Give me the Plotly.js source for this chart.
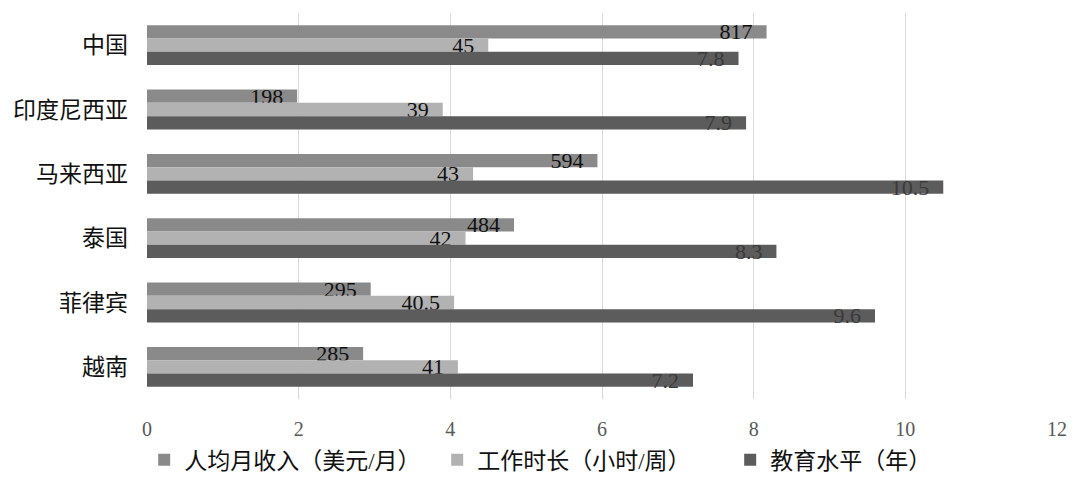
<!DOCTYPE html>
<html>
<head>
<meta charset="utf-8">
<script src="https://cdn.plot.ly/plotly-3.0.1.min.js"></script>
<style>html,body{margin:0;padding:0;background:#fff;}#chart{width:1080px;height:479px;}</style>
</head>
<body>
<div id="chart"></div>
<script>
// Data
var countries = ['中国', '印度尼西亚', '马来西亚', '泰国', '菲律宾', '越南'];
var seriesNames = ['人均月收入（美元/月）', '工作时长（小时/周）', '教育水平（年）'];
var income = [817, 198, 594, 484, 295, 285];      // USD / month
var hours = [45, 39, 43, 42, 40.5, 41];           // hours / week
var education = [7.8, 7.9, 10.5, 8.3, 9.6, 7.2];  // years
// The chart plots each series on a shared 0-12 axis using these display scales
var scales = [100, 10, 1];
var xTicks = [0, 2, 4, 6, 8, 10, 12];

var serif = 'Liberation Serif, Noto Sans CJK SC, serif';
var colors = ['#8a8a8a', '#b2b2b2', '#5c5c5c'];
var textColors = ['#111111', '#111111', '#3a3a3a'];
var values = [income, hours, education];

var traces = values.map(function (vals, i) {
  return {
    type: 'bar',
    orientation: 'h',
    name: seriesNames[i],
    y: countries,
    x: vals.map(function (v) { return v / scales[i]; }),
    text: vals.map(function (v) { return String(v); }),
    texttemplate: '%{text}\u00a0\u00a0',
    textposition: 'inside',
    insidetextanchor: 'end',
    constraintext: 'none',
    textangle: 0,
    insidetextfont: {family: serif, size: 22, color: textColors[i]},
    marker: {color: colors[i], line: {width: 0}},
    hoverinfo: 'none'
  };
});

var layout = {
  width: 1080,
  height: 479,
  margin: {l: 147, r: 23, t: 13, b: 80, autoexpand: false},
  paper_bgcolor: '#ffffff',
  plot_bgcolor: '#ffffff',
  barmode: 'group',
  bargap: 0.38,
  bargroupgap: 0,
  showlegend: true,
  xaxis: {
    range: [0, 12],
    tickvals: xTicks,
    ticktext: xTicks.map(String),
    showgrid: true,
    gridcolor: '#d9d9d9',
    gridwidth: 1,
    zeroline: false,
    showline: false,
    ticks: '',
    ticklabelstandoff: 16,
    tickfont: {family: serif, size: 20, color: '#595959'},
    automargin: false,
    fixedrange: true
  },
  yaxis: {
    autorange: 'reversed',
    showgrid: false,
    zeroline: false,
    showline: false,
    ticks: '',
    ticklabelstandoff: 18,
    tickfont: {family: serif, size: 23, color: '#111111'},
    automargin: false,
    fixedrange: true
  },
  legend: {
    orientation: 'h',
    xref: 'container',
    yref: 'container',
    x: 0.1335,
    xanchor: 'left',
    y: 0.04,
    yanchor: 'middle',
    itemgap: 0,
    entrywidth: 248,
    font: {family: serif, size: 23, color: '#111111'},
    bgcolor: 'rgba(0,0,0,0)',
    traceorder: 'normal'
  }
};

Plotly.newPlot('chart', traces, layout, {staticPlot: true, displayModeBar: false});
</script>
</body>
</html>
